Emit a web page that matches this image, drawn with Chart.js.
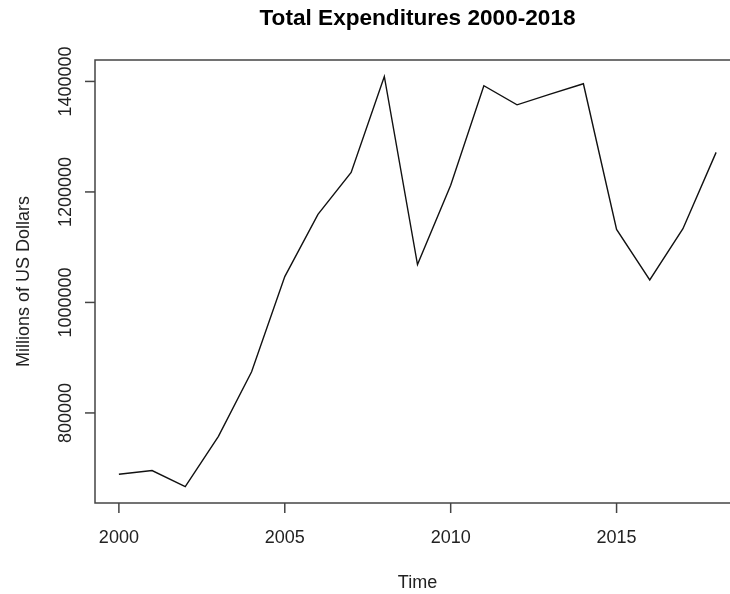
<!DOCTYPE html>
<html>
<head>
<meta charset="utf-8">
<script src="https://cdn.jsdelivr.net/npm/chart.js@4/dist/chart.umd.min.js"></script>
<style>
  html, body { margin: 0; padding: 0; background: #fff; overflow: hidden; }
  #wrap { position: absolute; left: 0; top: 0; width: 760px; height: 594px; }
</style>
</head>
<body>
<div id="wrap"><canvas id="chart"></canvas></div>
<script>
const years = [2000, 2001, 2002, 2003, 2004, 2005, 2006, 2007, 2008, 2009,
               2010, 2011, 2012, 2013, 2014, 2015, 2016, 2017, 2018];
const expenditures = [689100, 695800, 666700, 757600, 874500, 1046700, 1159500, 1235300, 1409100, 1068500,
                      1212200, 1392200, 1357600, 1377100, 1395800, 1132200, 1040700, 1133500, 1271600];
const xTicks = [2000, 2005, 2010, 2015];
const yTicks = [800000, 1000000, 1200000, 1400000];

const titleText = "Total Expenditures 2000-2018";
const xTitle = "Time";
const yTitle = "Millions of US Dollars";
const FONT = "'Liberation Sans', Arial, sans-serif";

// R style axis range: data range padded by 4% each side
function padRange(vals) {
  const lo = Math.min(...vals), hi = Math.max(...vals);
  const d = (hi - lo) * 0.04;
  return [lo - d, hi + d];
}
const [xMin, xMax] = padRange(years);
const [yMin, yMax] = padRange(expenditures);

const rAxes = {
  id: "rAxes",
  afterDraw(chart) {
    const { ctx, chartArea: a, scales: { x, y } } = chart;
    ctx.save();

    // box
    ctx.strokeStyle = "#444";
    ctx.lineWidth = 1.5;
    ctx.strokeRect(a.left, a.top, a.right - a.left, a.bottom - a.top);

    // x ticks
    ctx.fillStyle = "#222";
    ctx.font = "18px " + FONT;
    ctx.textAlign = "center";
    ctx.textBaseline = "alphabetic";
    xTicks.forEach(t => {
      const px = x.getPixelForValue(t);
      ctx.beginPath();
      ctx.moveTo(px, a.bottom);
      ctx.lineTo(px, a.bottom + 10);
      ctx.stroke();
      ctx.fillText(String(t), px, 543);
    });

    // y ticks
    yTicks.forEach(t => {
      const py = y.getPixelForValue(t);
      ctx.beginPath();
      ctx.moveTo(a.left, py);
      ctx.lineTo(a.left - 10, py);
      ctx.stroke();
      ctx.save();
      ctx.translate(70.5, py);
      ctx.rotate(-Math.PI / 2);
      ctx.fillText(String(t), 0, 0);
      ctx.restore();
    });

    // axis titles
    ctx.fillText(xTitle, (a.left + a.right) / 2, 588);
    ctx.save();
    ctx.translate(29, (a.top + a.bottom) / 2);
    ctx.rotate(-Math.PI / 2);
    ctx.fillText(yTitle, 0, 0);
    ctx.restore();

    // main title
    ctx.fillStyle = "#000";
    ctx.font = "bold 22.6px " + FONT;
    ctx.fillText(titleText, (a.left + a.right) / 2, 25);

    ctx.restore();
  }
};

new Chart(document.getElementById("chart"), {
  type: "line",
  data: {
    datasets: [{
      data: years.map((yr, i) => ({ x: yr, y: expenditures[i] })),
      borderColor: "#111",
      borderWidth: 1.4,
      backgroundColor: "transparent",
      pointRadius: 0,
      tension: 0
    }]
  },
  options: {
    responsive: true,
    maintainAspectRatio: false,
    animation: false,
    layout: { padding: { left: 95, top: 60, right: 20, bottom: 91 } },
    plugins: {
      legend: { display: false },
      tooltip: { enabled: false },
      title: { display: false }
    },
    scales: {
      x: { type: "linear", min: xMin, max: xMax, display: false },
      y: { type: "linear", min: yMin, max: yMax, display: false }
    }
  },
  plugins: [rAxes]
});
</script>
</body>
</html>
